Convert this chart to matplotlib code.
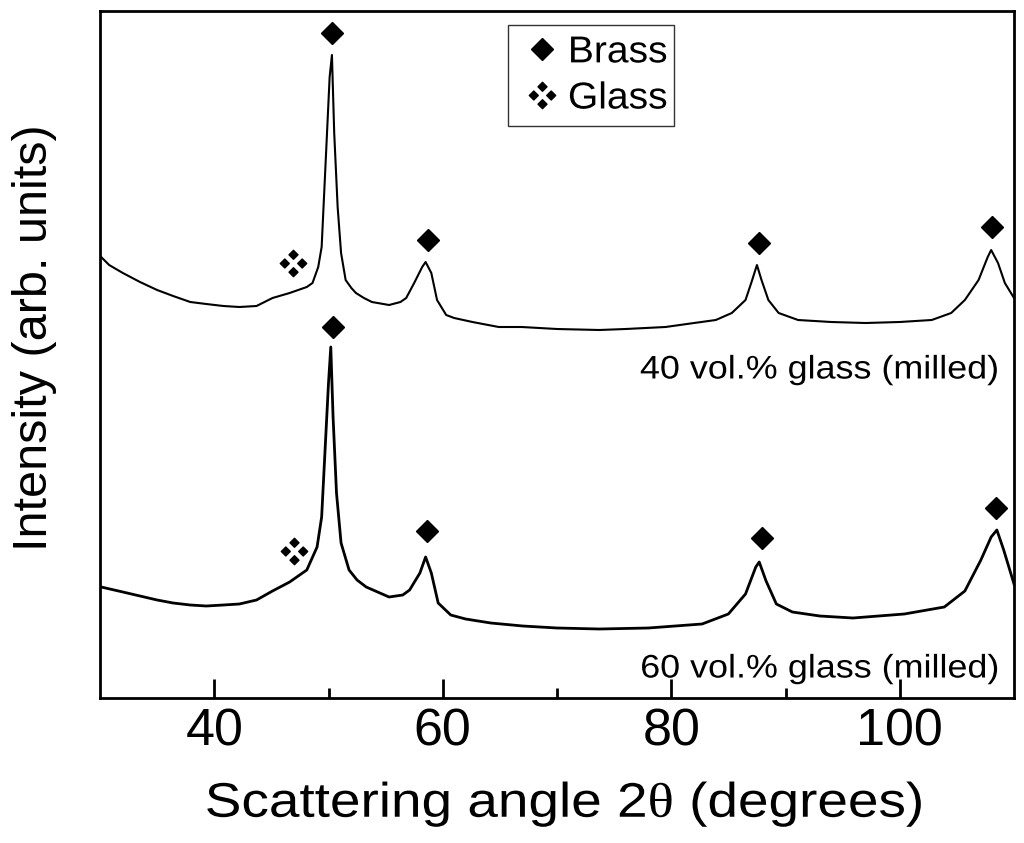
import matplotlib
matplotlib.use("Agg")
import matplotlib.pyplot as plt
from matplotlib.path import Path
from matplotlib.lines import Line2D
from matplotlib.transforms import Affine2D
import matplotlib.patheffects as pe

plt.rcParams['font.family'] = ['Liberation Sans', 'DejaVu Sans']
plt.rcParams['mathtext.fontset'] = 'custom'
plt.rcParams['mathtext.rm'] = 'Liberation Serif'
plt.rcParams['mathtext.it'] = 'Liberation Serif:italic'

# scan of 40 vol.% glass sample (upper trace), arbitrary units
angle_40 = [30.1, 30.8, 32.0, 33.5, 35.0, 36.4, 37.9, 39.3, 40.8, 42.2,
            43.7, 45.1, 46.6, 48.1, 48.6, 49.1, 49.4, 49.8, 50.1, 50.3,
            50.5, 50.8, 51.1, 51.5, 52.0, 52.4, 53.1, 53.8, 55.3, 56.3,
            56.8, 57.5, 58.2, 58.5, 59.0, 59.5, 60.3, 61.0, 62.6, 64.9,
            66.9, 70.0, 73.7, 76.0, 79.5, 82.0, 83.9, 85.3, 86.5, 87.0,
            87.5, 87.9, 88.5, 89.4, 91.1, 94.0, 97.0, 100.0, 102.8, 104.5,
            105.7, 106.9, 107.7, 108.0, 108.6, 109.2, 110.0]
inten_40 = [441, 433, 425, 416, 408, 402, 396, 394, 392, 391,
            392, 400, 405, 411, 415, 431, 451, 548, 621, 643,
            565, 491, 445, 418, 410, 405, 400, 396, 393, 396,
            400, 415, 431, 436, 425, 398, 383, 380, 376, 371,
            371, 369, 368, 369, 371, 375, 378, 385, 398, 415,
            433, 418, 398, 385, 378, 376, 375, 376, 378, 385,
            398, 418, 441, 448, 435, 415, 400]

# scan of 60 vol.% glass sample (lower trace)
angle_60 = [30.1, 32.0, 33.5, 35.0, 36.4, 37.9, 39.3, 40.8, 42.2, 43.7,
            45.1, 46.6, 48.1, 49.0, 49.4, 49.7, 50.0, 50.2, 50.4, 50.7,
            51.1, 51.8, 52.5, 53.3, 55.3, 56.5, 57.1, 58.0, 58.5, 59.0,
            59.6, 60.7, 62.0, 64.2, 67.0, 70.0, 73.7, 78.0, 82.7, 85.0,
            86.5, 87.4, 87.7, 88.3, 89.2, 90.6, 93.0, 95.9, 100.4, 103.9,
            105.7, 107.1, 108.0, 108.5, 109.1, 110.0]
inten_60 = [111, 106, 102, 98, 95, 93, 92, 93, 94, 98,
            107, 116, 128, 151, 181, 248, 315, 351, 281, 205,
            155, 128, 118, 111, 101, 103, 108, 125, 141, 125,
            95, 83, 79, 75, 72, 70, 69, 70, 74, 84,
            104, 131, 136, 117, 94, 86, 82, 80, 84, 91,
            107, 138, 161, 168, 148, 114]

# peak markers
brass_40_x = [50.3, 58.7, 87.7, 108.1]
brass_40_y = [665, 458, 455, 471]
glass_40_x = [46.9]
glass_40_y = [435]
brass_60_x = [50.4, 58.6, 87.9, 108.4]
brass_60_y = [371, 167, 160, 190]
glass_60_x = [47.0]
glass_60_y = [147]

labels = ["40 vol.% glass (milled)", "60 vol.% glass (milled)"]


class StretchX(pe.AbstractPathEffect):
    """widen text glyphs along the text direction"""
    def __init__(self, sx, anchor='center'):
        super().__init__()
        self.sx = sx
        self.anchor = anchor

    def draw_path(self, renderer, gc, tpath, affine, rgbFace=None):
        ext = tpath.get_extents()
        cx = {'left': ext.x0, 'right': ext.x1}.get(self.anchor, (ext.x0 + ext.x1) / 2)
        tr = Affine2D().translate(-cx, 0).scale(self.sx, 1).translate(cx, 0) + affine
        renderer.draw_path(gc, tpath, tr, rgbFace)


# glass symbol: four small diamonds arranged in a diamond
def small_diamond(cx, cy, r):
    return [(cx, cy + r), (cx + r, cy), (cx, cy - r), (cx - r, cy), (cx, cy + r)]

verts, codes = [], []
for cx, cy in [(0, 0.33), (0.33, 0), (0, -0.33), (-0.33, 0)]:
    verts += small_diamond(cx, cy, 0.17)
    codes += [Path.MOVETO, Path.LINETO, Path.LINETO, Path.LINETO, Path.CLOSEPOLY]
glass_marker = Path(verts, codes)

fig = plt.figure(figsize=(10.24, 8.43), dpi=100)
ax = fig.add_axes([100/1024, 1 - 698/843, 914/1024, 687/843])

ax.plot(angle_40, inten_40, color='black', lw=1.5)
ax.plot(angle_60, inten_60, color='black', lw=2.0)

ax.plot(brass_40_x, brass_40_y, 'D', color='black', ms=11.5, ls='none')
ax.plot(brass_60_x, brass_60_y, 'D', color='black', ms=11.5, ls='none')
ax.plot(glass_40_x, glass_40_y, marker=glass_marker, color='black', ms=19, ls='none')
ax.plot(glass_60_x, glass_60_y, marker=glass_marker, color='black', ms=19, ls='none')

for yv, lab in zip([328, 29], labels):
    t = ax.text(108.7, yv, lab, fontsize=23.5, ha='right', va='center')
    t.set_path_effects([StretchX(1.1, 'right')])

ax.set_xlim(30, 110)
ax.set_ylim(0, 687)
ax.set_xticks([40, 60, 80, 100])
ax.set_xticks([50, 70, 90], minor=True)
ax.set_yticks([])
ax.tick_params(axis='x', which='major', direction='in', length=14, width=2,
               labelsize=37.5, pad=7)
ax.tick_params(axis='x', which='minor', direction='in', length=7, width=2)
for s in ax.spines.values():
    s.set_linewidth(2)

xl = ax.set_xlabel(r"Scattering angle 2$\mathrm{\theta}$ (degrees)", fontsize=35)
xl.set_path_effects([StretchX(1.13)])
ax.xaxis.set_label_coords((564 - 100) / 914, (698 - 780) / 687)
ax.set_ylabel("Intensity (arb. units)", fontsize=35)
ax.yaxis.set_label_coords((57 - 100) / 914, (698 - 337.5) / 687)

handles = [
    Line2D([], [], marker='D', color='black', ms=11.5, ls='none'),
    Line2D([], [], marker=glass_marker, color='black', ms=19, ls='none'),
]
leg = ax.legend(handles, ["Brass", "Glass"], loc='upper left',
                bbox_to_anchor=(508/1024, 1 - 25/843), bbox_transform=fig.transFigure,
                fontsize=27, frameon=True, fancybox=False, borderaxespad=0,
                borderpad=0.25, labelspacing=0.27, handlelength=1.3, handletextpad=0.05)
leg.get_frame().set_edgecolor('black')
leg.get_frame().set_linewidth(1)
for t in leg.get_texts():
    t.set_path_effects([StretchX(1.04, 'left')])

fig.savefig("out.png", dpi=100)
